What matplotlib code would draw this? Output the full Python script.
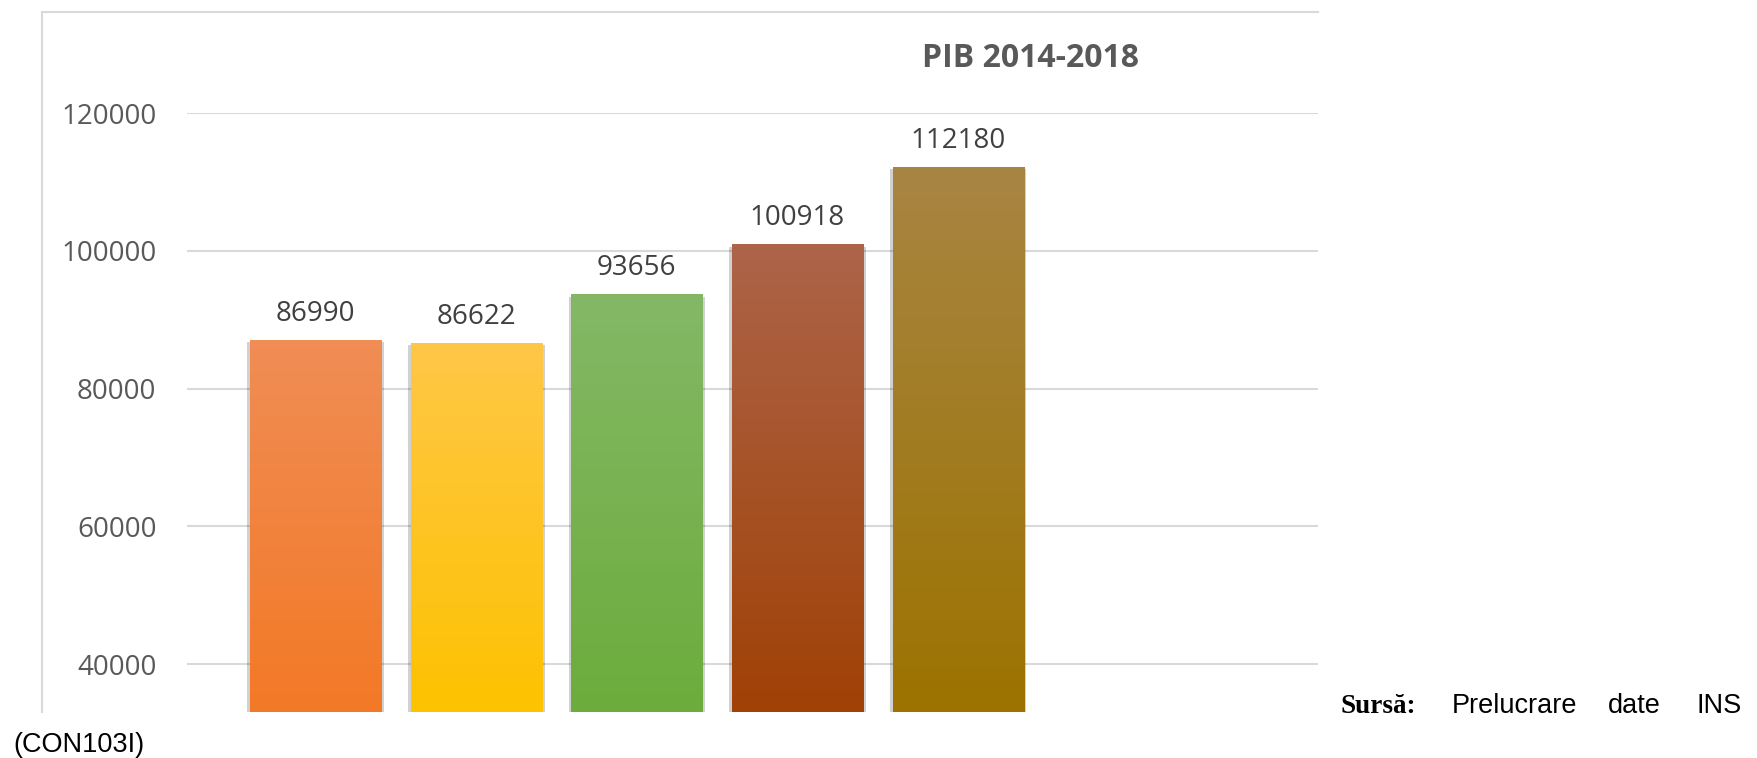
import numpy as np
import matplotlib
matplotlib.use("Agg")
import matplotlib.pyplot as plt
import matplotlib.patheffects as pe
from matplotlib.colors import LinearSegmentedColormap

# data
years = ["2014", "2015", "2016", "2017", "2018"]
pib = [86990, 86622, 93656, 100918, 112180]
yticks = [40000, 60000, 80000, 100000, 120000]
top_colors = ["#F08D55", "#FFC747", "#84B866", "#AD6449", "#A88543"]
bottom_colors = ["#F37926", "#FDC200", "#6CAC3C", "#A04106", "#9C7300"]

W, H = 1758, 758
plt.rcParams['font.family'] = ['Open Sans', 'DejaVu Sans']

fig = plt.figure(figsize=(W / 100, H / 100), dpi=100)
fig.patch.set_facecolor("white")

def px(x, y):
    return x / W, 1 - y / H

# plot area in pixels: x 187..1318, y 113..712
ax = fig.add_axes([187 / W, 1 - 712 / H, (1318 - 187) / W, (712 - 113) / H])
ymin, ymax = 33043, 120000
xmin, xmax = -0.80, 6.24
width = 0.816

for i, v in enumerate(pib):
    bar = ax.bar(i, v, width=width, color=bottom_colors[i], linewidth=0, zorder=2,
                 path_effects=[pe.SimplePatchShadow(offset=(2, -1.5), shadow_rgbFace="#000000", alpha=0.18),
                               pe.SimplePatchShadow(offset=(-2, -1.5), shadow_rgbFace="#000000", alpha=0.18),
                               pe.Normal()])[0]
    cmap = LinearSegmentedColormap.from_list("g%d" % i, [bottom_colors[i], top_colors[i]])
    grad = np.linspace(0, 1, 256).reshape(-1, 1)
    im = ax.imshow(grad, cmap=cmap, origin="lower", aspect="auto", interpolation="bicubic",
                   extent=(i - width / 2, i + width / 2, ymin, v), zorder=3)
    im.set_clip_path(bar)
    ax.annotate(str(v), (i, v), xytext=(0, 13.7), textcoords="offset points",
                ha="center", va="baseline", fontsize=20, color="#404040", zorder=4)

ax.set_xlim(xmin, xmax)
ax.set_ylim(ymin, ymax)
ax.set_yticks(yticks)
ax.set_yticklabels([str(t) for t in yticks])
for lab in ax.get_yticklabels():
    lab.set_verticalalignment("center_baseline")
ax.tick_params(axis="y", length=0, pad=22, labelsize=20, labelcolor="#595959")
ax.set_xticks([])
ax.grid(axis="y", color="#D9D9D9", linewidth=1.5, zorder=0)
ax.set_axisbelow(True)
for s in ax.spines.values():
    s.set_visible(False)

# chart border (top and left visible)
fig.add_artist(plt.Line2D([42 / W, 1318 / W], [1 - 12 / H, 1 - 12 / H], color="#D9D9D9", linewidth=1.5))
fig.add_artist(plt.Line2D([42 / W, 42 / W], [1 - 12 / H, 1 - 712 / H], color="#D9D9D9", linewidth=1.5))

# title
fig.text(*px(1030, 67), "PIB 2014-2018", ha="center", va="baseline", fontsize=23,
         fontweight="bold", color="#595959")

# source note
fig.text(*px(1340, 713), "Sursă:", ha="left", va="baseline", fontsize=19.5,
         fontweight="bold", family=["Liberation Serif", "DejaVu Serif"], color="black")
for word, x in [("Prelucrare", 1452), ("date", 1608), ("INS", 1697)]:
    fig.text(*px(x, 713), word, ha="left", va="baseline", fontsize=19.5,
             family=["Liberation Sans", "DejaVu Sans"], color="black")
fig.text(*px(13, 752), "(CON103I)", ha="left", va="baseline", fontsize=19.5,
         family=["Liberation Sans", "DejaVu Sans"], color="black")

fig.savefig("out.png", dpi=100)
